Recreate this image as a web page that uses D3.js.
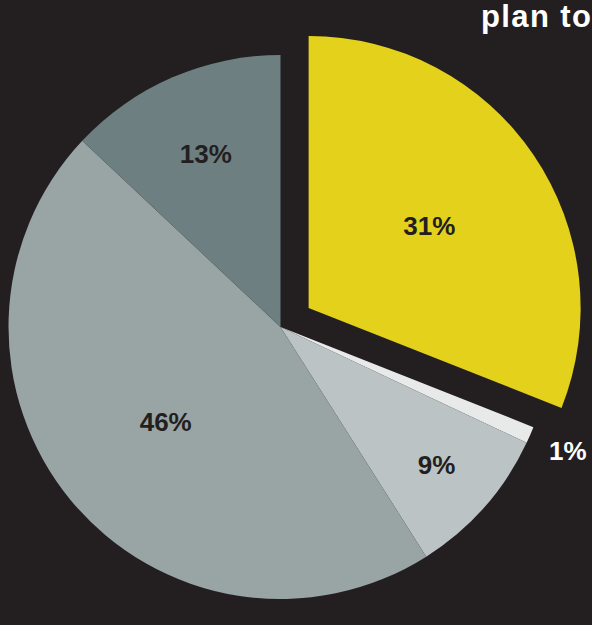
<!DOCTYPE html>
<html>
<head>
<meta charset="utf-8">
<script src="https://cdn.jsdelivr.net/npm/d3@7"></script>
<style>
  html, body { margin: 0; padding: 0; background: #231f20; }
  svg { display: block; }
  text { font-family: "Liberation Sans", Arial, Helvetica, sans-serif; font-weight: bold; }
</style>
</head>
<body>
<div id="chart"></div>
<script>
// Share of respondents per answer, clockwise from 12 o'clock
const categories = ["A", "B", "C", "D", "E"];
const values = [31, 1, 9, 46, 13];
const labels = ["31%", "1%", "9%", "46%", "13%"];
const title = "plan to";

// Presentation
const colors = ["#e4d11b", "#e8e9e9", "#bbc3c4", "#99a4a5", "#6d7f81"];
const labelColors = ["#231f20", "#ffffff", "#231f20", "#231f20", "#231f20"];
const labelRadius = [146, 313, 208, 149, 188];
const explode = [34, 0, 0, 0, 0];

const width = 592, height = 625;
const cx = 280.5, cy = 327, R = 272;
const fontSize = 26;

const svg = d3.select("#chart").append("svg")
  .attr("width", width)
  .attr("height", height);

svg.append("rect")
  .attr("width", width).attr("height", height)
  .attr("fill", "#231f20");

const pie = d3.pie().sort(null).value((d, i) => values[i]);
const arcs = pie(categories);
const arc = d3.arc().innerRadius(0).outerRadius(R);

const g = svg.append("g").attr("transform", `translate(${cx},${cy})`);

const mid = d => (d.startAngle + d.endAngle) / 2;

const slice = g.selectAll("g.slice")
  .data(arcs)
  .join("g")
  .attr("class", "slice")
  .attr("transform", (d, i) => {
    const a = mid(d), k = explode[i];
    return `translate(${k * Math.sin(a)},${-k * Math.cos(a)})`;
  });

slice.append("path")
  .attr("d", arc)
  .attr("fill", (d, i) => colors[i]);

slice.append("text")
  .attr("x", (d, i) => labelRadius[i] * Math.sin(mid(d)))
  .attr("y", (d, i) => -labelRadius[i] * Math.cos(mid(d)) + fontSize * 0.345)
  .attr("text-anchor", "middle")
  .attr("font-size", fontSize)
  .attr("fill", (d, i) => labelColors[i])
  .text((d, i) => labels[i]);

svg.append("text")
  .attr("x", 481)
  .attr("y", 27)
  .attr("font-size", 31)
  .attr("letter-spacing", 1.4)
  .attr("fill", "#ffffff")
  .text(title);
</script>
</body>
</html>
